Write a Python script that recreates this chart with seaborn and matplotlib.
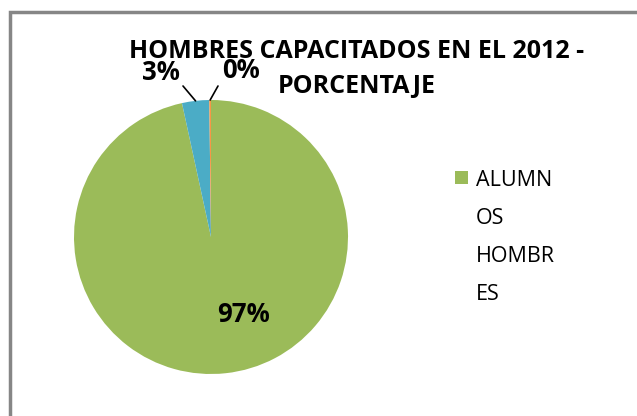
import numpy as np
import matplotlib
matplotlib.use("Agg")
import matplotlib.pyplot as plt
import seaborn as sns
from matplotlib.patches import Rectangle

# data
categories = ["ALUMNOS HOMBRES", "OTROS", "SIN DATO"]
values = [96.6, 3.2, 0.2]
colors = ["#9BBB59", "#4BACC6", "#F79646"]
title = "HOMBRES CAPACITADOS EN EL 2012 -\nPORCENTAJE"
legend_lines = ["ALUMN", "OS", "HOMBR", "ES"]

sns.set_theme(style="white")
plt.rcParams["font.family"] = ["Open Sans", "DejaVu Sans"]
plt.rcParams["text.color"] = "black"

W, H = 637, 416
fig = plt.figure(figsize=(W / 100, H / 100), dpi=100)


def fx(x):
    return x / W


def fy(y):
    return 1 - y / H


# pie axes: centre (211, 237), radius 137 px
cx, cy, r = 211, 237, 137
ax = fig.add_axes([fx(cx - r), fy(cy + r), 2 * r / W, 2 * r / H])
wedges, _ = ax.pie(values, colors=colors, startangle=90, counterclock=False,
                   radius=1, wedgeprops=dict(linewidth=0))
ax.set_xlim(-1, 1)
ax.set_ylim(-1, 1)
ax.set_aspect("auto")
ax.axis("off")

total = sum(values)
pcts = [f"{round(v / total * 100):.0f}%" for v in values]

lbl = dict(fontsize=18.5, fontweight="bold", color="black", ha="center", va="center")

# big slice label inside
ax.text((244 - cx) / r, (cy - 315) / r, pcts[0], **lbl)

# small slices: outside labels with leader lines
outside = [(1, (161, 72), (183, 86)), (2, (241, 70), (218, 86))]
for i, (tx, ty), (lx, ly) in outside:
    w = wedges[i]
    mid = np.deg2rad((w.theta1 + w.theta2) / 2)
    ex, ey = np.cos(mid), np.sin(mid)
    ax.plot([(lx - cx) / r, ex], [(cy - ly) / r, ey], color="black", lw=1.2,
            clip_on=False)
    ax.text((tx - cx) / r, (cy - ty) / r, pcts[i], clip_on=False, **lbl)

fig.text(fx(357), fy(69), title, ha="center", va="center", fontsize=18,
         fontweight="bold", color="black", linespacing=1.5)

# legend (only the first series is listed in the original)
fig.patches.append(Rectangle((fx(455), fy(184)), 13 / W, 13 / H,
                             transform=fig.transFigure, facecolor=colors[0],
                             edgecolor="none"))
for k, line in enumerate(legend_lines):
    fig.text(fx(476), fy(186 + 38 * k), line, ha="left", va="baseline",
             fontsize=15.5, color="black")

# chart border
fig.patches.append(Rectangle((fx(9.5), fy(H + 5)), 1, fy(12) - fy(H + 5),
                             transform=fig.transFigure, fill=False,
                             edgecolor="#868686", linewidth=2.5))

fig.savefig("out.png", dpi=100)
